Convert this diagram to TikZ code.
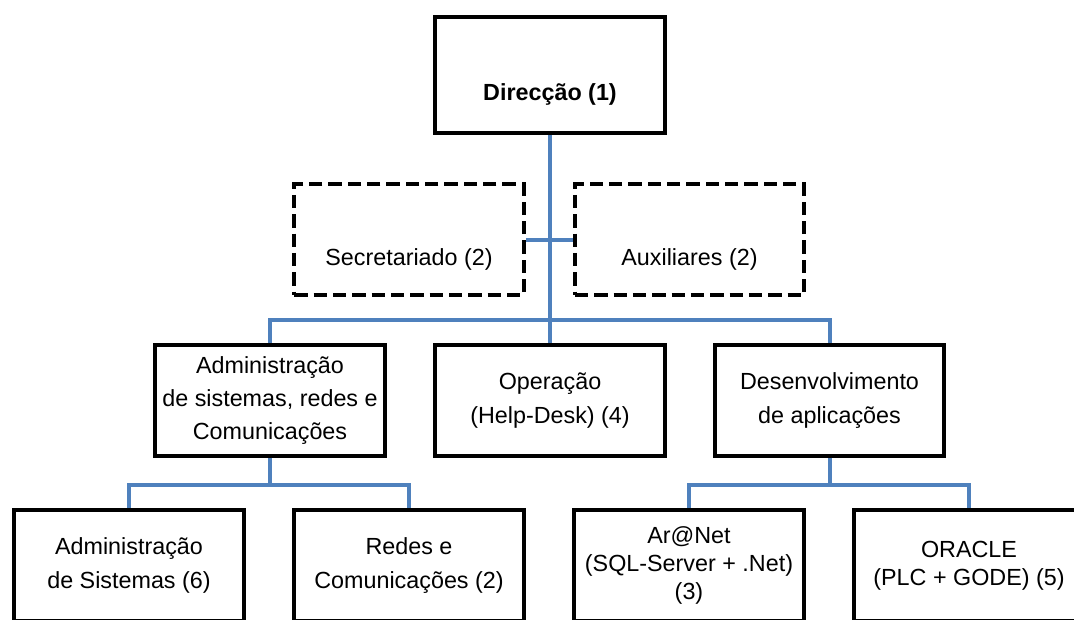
\documentclass[tikz,border=0pt]{standalone}
\usepackage{fontspec}
\setmainfont{Liberation Sans}
\usepackage{tikz}
\usetikzlibrary{positioning}
\definecolor{azul}{RGB}{79,129,189}

\begin{document}
\begin{tikzpicture}[
        x=0.75pt, y=-0.75pt,
        every node/.style={align=center, font=\fontsize{17.5}{25}\selectfont},
        caixa/.style={draw, line width=3.2pt, minimum width=172pt, minimum height=83pt, inner sep=2pt},
        tracejada/.style={caixa, dash pattern=on 10pt off 4.5pt},
        apertada/.style={font=\fontsize{17.5}{21}\selectfont},
        linha/.style={azul, line width=3pt}
    ]
        \useasboundingbox (0,0) rectangle (1074,619);

        % caixas (coordenadas em px)
        \path
            (550,75)    node[caixa, minimum height=87pt] (dir) {\strut\\\textbf{Direcção (1)}}
            (409,239.5) node[tracejada] (sec) {\strut\\Secretariado (2)}
            (689.5,239.5) node[tracejada] (aux) {\strut\\Auxiliares (2)}
            (270,400.5) node[caixa] (adm) {Administração\\de sistemas, redes e\\Comunicações}
            (550,400.5) node[caixa] (ope) {Operação\\(Help-Desk) (4)}
            (829.5,400.5) node[caixa] (des) {Desenvolvimento\\de aplicações}
            (129,565.5) node[caixa] (adms) {Administração\\de Sistemas (6)}
            (409,565.5) node[caixa] (red) {Redes e\\Comunicações (2)}
            (689,565.5) node[caixa, apertada] (arn) {Ar@Net\\(SQL-Server + .Net)\\(3)}
            (969,565.5) node[caixa, apertada] (ora) {ORACLE\\(PLC + GODE) (5)};

        % ligações
        \coordinate (bus1) at (550,320);
        \coordinate (bus2) at (270,485);
        \coordinate (bus3) at (829.5,485);
        \draw[linha] (dir.south) -- (bus1);
        \draw[linha] (sec.east) -- (aux.west);
        \draw[linha] (adm.north) |- (bus1) -| (des.north);
        \draw[linha] (bus1) -- (ope.north);
        \draw[linha] (adm.south) -- (bus2);
        \draw[linha] (adms.north) |- (bus2) -| (red.north);
        \draw[linha] (des.south) -- (bus3);
        \draw[linha] (arn.north) |- (bus3) -| (ora.north);
    \end{tikzpicture}
\end{document}
